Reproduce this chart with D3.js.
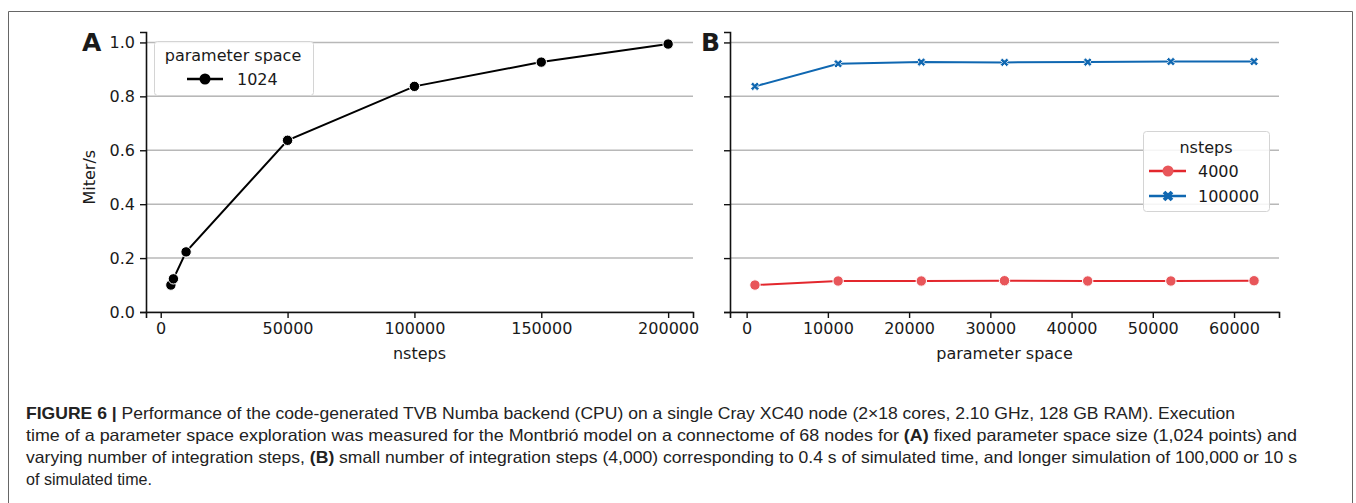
<!DOCTYPE html>
<html>
<head>
<meta charset="utf-8">
<script src="https://cdn.jsdelivr.net/npm/d3@7"></script>
<style>
  body { margin: 0; background: #fff; }
  svg text { font-family: "DejaVu Sans", sans-serif; fill: #1a1a1a; }
  .cap text, text.cap { font-family: "Liberation Sans Narrow", "Liberation Sans", Arial, sans-serif; }
</style>
</head>
<body>
<div class="canvas"></div>
<script>
// panel A: fixed parameter space (1024), varying nsteps
const nstepsA = [4000, 5000, 10000, 50000, 100000, 150000, 200000];
const miterA  = [0.100, 0.123, 0.223, 0.637, 0.837, 0.927, 0.994];

// panel B: varying parameter space, two nsteps settings
const paramSpace = [1024, 11264, 21504, 31744, 41984, 52224, 62464];
const miter4000   = [0.100, 0.115, 0.115, 0.116, 0.115, 0.115, 0.116];
const miter100000 = [0.837, 0.921, 0.927, 0.926, 0.927, 0.929, 0.929];

const yTicks  = [0, 0.2, 0.4, 0.6, 0.8, 1.0];
const xTicksA = [0, 50000, 100000, 150000, 200000];
const xTicksB = [0, 10000, 20000, 30000, 40000, 50000, 60000];

const red = '#e3272d', redFill = '#e8565a', blue = '#0f67b1';

const svg = d3.select('.canvas')
    .append('svg')
    .attr('width', 1356)
    .attr('height', 503);

// outer frame (top, left, right)
svg.append('path')
    .attr('d', 'M8.5,503 V11.5 H1352.5 V503')
    .attr('fill', 'none')
    .attr('stroke', '#666')
    .attr('stroke-width', 1);

// pad an extent by 5% each side, like matplotlib does
const pad = ext => {
    const m = (ext[1] - ext[0]) * 0.05;
    return [ext[0] - m, ext[1] + m];
};

const y = d3.scaleLinear()
    .domain([0, pad(d3.extent(miterA))[1]])
    .range([312, 32]);

const xA = d3.scaleLinear().domain(pad(d3.extent(nstepsA))).range([146, 693]);
const xB = d3.scaleLinear().domain(pad(d3.extent(paramSpace))).range([730, 1279]);

//draws grid + spines + ticks for one panel
const drawAxes = (x, xTicks, showYLabels, xLabel) => {
    const g = svg.append('g');
    const [x0, x1] = x.range();

    g.selectAll('line.grid')
        .data(yTicks)
        .enter().append('line')
            .attr('x1', x0).attr('x2', x1)
            .attr('y1', d => y(d)).attr('y2', d => y(d))
            .attr('stroke', '#b8b8b8')
            .attr('stroke-width', 1.5);

    const yAxis = d3.axisLeft(y).tickValues(yTicks).tickSizeOuter(0).tickSize(6).tickPadding(5)
        .tickFormat(showYLabels ? d3.format('.1f') : '');
    const ya = g.append('g').attr('transform', `translate(${x0},0)`).call(yAxis);

    const xAxis = d3.axisBottom(x).tickValues(xTicks).tickSizeOuter(0).tickSize(6).tickPadding(5)
        .tickFormat(d3.format('d'));
    const xa = g.append('g').attr('transform', `translate(0,${y.range()[0]})`).call(xAxis);

    [ya, xa].forEach(a => {
        a.select('.domain').attr('stroke', '#111').attr('stroke-width', 1.6);
        a.selectAll('.tick line').attr('stroke', '#111').attr('stroke-width', 1.4);
        a.selectAll('.tick text').attr('font-size', 16).attr('font-family', '"DejaVu Sans", sans-serif').attr('fill', '#1a1a1a');
    });

    g.append('text')
        .attr('x', (x0 + x1) / 2)
        .attr('y', 359)
        .attr('text-anchor', 'middle')
        .attr('font-size', 16)
        .text(xLabel);
    return g;
};

drawAxes(xA, xTicksA, true, 'nsteps');
drawAxes(xB, xTicksB, false, 'parameter space');

// y label
svg.append('text')
    .attr('transform', `translate(95,${y(0.5)}) rotate(-90)`)
    .attr('text-anchor', 'middle')
    .attr('font-size', 16)
    .text('Miter/s');

// panel letters
svg.selectAll('text.letter')
    .data([{t: 'A', x: 82}, {t: 'B', x: 701}])
    .enter().append('text')
        .attr('class', 'letter')
        .attr('x', d => d.x)
        .attr('y', 51)
        .attr('font-size', 25)
        .attr('font-weight', 'bold')
        .attr('font-family', '"Liberation Sans", Arial, sans-serif')
        .text(d => d.t);

const line = x => d3.line().x(d => x(d[0])).y(d => y(d[1]));

// panel A series
svg.append('path')
    .datum(d3.zip(nstepsA, miterA))
    .attr('d', line(xA))
    .attr('fill', 'none')
    .attr('stroke', '#000')
    .attr('stroke-width', 2);

svg.selectAll('circle.a')
    .data(d3.zip(nstepsA, miterA))
    .enter().append('circle')
        .attr('cx', d => xA(d[0]))
        .attr('cy', d => y(d[1]))
        .attr('r', 5.2)
        .attr('fill', '#000')
        .attr('stroke', '#fff')
        .attr('stroke-width', 1);

// panel B series
svg.append('path')
    .datum(d3.zip(paramSpace, miter4000))
    .attr('d', line(xB))
    .attr('fill', 'none')
    .attr('stroke', red)
    .attr('stroke-width', 2);

svg.selectAll('circle.b')
    .data(d3.zip(paramSpace, miter4000))
    .enter().append('circle')
        .attr('cx', d => xB(d[0]))
        .attr('cy', d => y(d[1]))
        .attr('r', 5.2)
        .attr('fill', redFill)
        .attr('stroke', '#fff')
        .attr('stroke-width', 1);

svg.append('path')
    .datum(d3.zip(paramSpace, miter100000))
    .attr('d', line(xB))
    .attr('fill', 'none')
    .attr('stroke', blue)
    .attr('stroke-width', 2);

const xMark = d3.symbol().type(d3.symbolCross).size(46);
svg.selectAll('path.xm')
    .data(d3.zip(paramSpace, miter100000))
    .enter().append('path')
        .attr('d', xMark)
        .attr('transform', d => `translate(${xB(d[0])},${y(d[1])}) rotate(45)`)
        .attr('fill', blue)
        .attr('stroke', '#fff')
        .attr('stroke-width', 0.8);

// legend A
const legA = svg.append('g');
legA.append('rect')
    .attr('x', 154.5).attr('y', 41.5).attr('width', 159).attr('height', 54)
    .attr('rx', 3)
    .attr('fill', 'rgba(255,255,255,0.85)')
    .attr('stroke', '#d4d4d4');
legA.append('text').attr('x', 233).attr('y', 61).attr('text-anchor', 'middle').attr('font-size', 16).text('parameter space');
legA.append('line').attr('x1', 187).attr('x2', 223).attr('y1', 79).attr('y2', 79).attr('stroke', '#000').attr('stroke-width', 2.5);
legA.append('circle').attr('cx', 205).attr('cy', 79).attr('r', 5.5).attr('fill', '#000');
legA.append('text').attr('x', 237).attr('y', 85).attr('font-size', 16).text('1024');

// legend B
const legB = svg.append('g');
legB.append('rect')
    .attr('x', 1143.5).attr('y', 131.5).attr('width', 126).attr('height', 80)
    .attr('rx', 3)
    .attr('fill', 'rgba(255,255,255,0.85)')
    .attr('stroke', '#d4d4d4');
legB.append('text').attr('x', 1206).attr('y', 153).attr('text-anchor', 'middle').attr('font-size', 16).text('nsteps');
const legItems = [
    {name: '4000', colour: red, fill: redFill, yy: 171, mark: 'circle'},
    {name: '100000', colour: blue, fill: blue, yy: 196, mark: 'x'}
];
legItems.forEach(d => {
    legB.append('line').attr('x1', 1149).attr('x2', 1186).attr('y1', d.yy).attr('y2', d.yy)
        .attr('stroke', d.colour).attr('stroke-width', 2.5);
    if (d.mark === 'circle') {
        legB.append('circle').attr('cx', 1168).attr('cy', d.yy).attr('r', 5.5).attr('fill', d.fill);
    } else {
        legB.append('path').attr('d', d3.symbol().type(d3.symbolCross).size(70))
            .attr('transform', `translate(1168,${d.yy}) rotate(45)`).attr('fill', d.fill);
    }
    legB.append('text').attr('x', 1198).attr('y', d.yy + 6).attr('font-size', 16).text(d.name);
});

// caption
const caption = [
    {parts: [['FIGURE 6 | ', true], ['Performance of the code-generated TVB Numba backend (CPU) on a single Cray XC40 node (2×18 cores, 2.10 GHz, 128 GB RAM). Execution', false]], len: 1209},
    {parts: [['time of a parameter space exploration was measured for the Montbrió model on a connectome of 68 nodes for ', false], ['(A)', true], [' fixed parameter space size (1,024 points) and', false]], len: 1271},
    {parts: [['varying number of integration steps, ', false], ['(B)', true], [' small number of integration steps (4,000) corresponding to 0.4  s of simulated time, and longer simulation of 100,000 or 10 s', false]], len: 1271},
    {parts: [['of simulated time.', false]], len: 126}
];
const cap = svg.append('g').attr('class', 'cap');
caption.forEach((ln, i) => {
    const t = cap.append('text')
        .attr('x', 26)
        .attr('y', 419 + i * 22)
        .attr('font-size', 16.5)
        .attr('textLength', ln.len)
        .attr('lengthAdjust', 'spacingAndGlyphs');
    ln.parts.forEach(p => {
        t.append('tspan')
            .attr('font-weight', p[1] ? 'bold' : 'normal')
            .attr('fill', '#222')
            .text(p[0]);
    });
});
</script>
</body>
</html>
